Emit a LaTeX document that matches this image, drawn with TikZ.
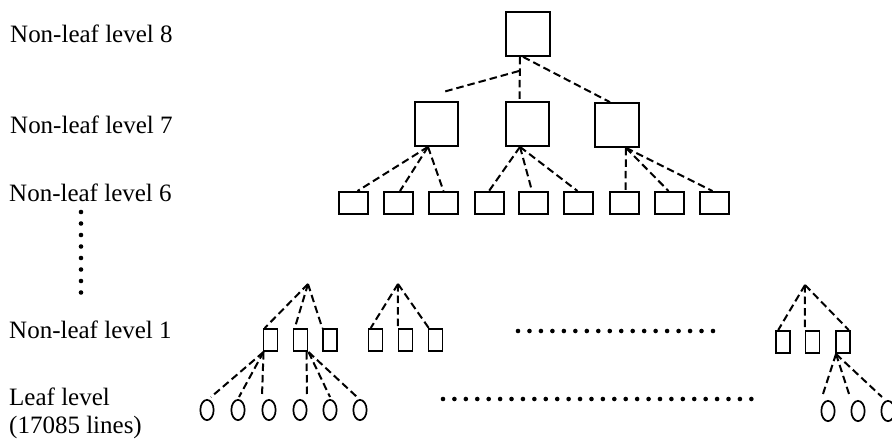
\documentclass[tikz,border=0pt]{standalone}
\usepackage{fontspec}
\setmainfont{Liberation Serif}
\usetikzlibrary{shapes.geometric}

\tikzset{
  bigbox/.style={draw, line width=2.2pt, inner sep=0pt, minimum width=43.5pt, minimum height=43.5pt},
  midbox/.style={draw, line width=2pt, inner sep=0pt, minimum width=29pt, minimum height=22pt},
  smallbox/.style={draw, line width=1.7pt, inner sep=0pt, minimum width=13.8pt, minimum height=22.3pt},
  leaf/.style={draw, ellipse, line width=1.7pt, inner sep=0pt, minimum width=13.3pt, minimum height=20.3pt},
  link/.style={line width=2pt, dash pattern=on 7.5pt off 4pt},
  lbl/.style={anchor=base west, inner sep=0pt, font=\fontsize{25}{29}\selectfont},
  dotmark/.style={fill=black}
}

\begin{document}
\begin{tikzpicture}[x=1pt, y=-1pt]
  \useasboundingbox (0,0) rectangle (892,442);
  \clip (0,0) rectangle (892,442);

  % level labels
  \node[lbl] (lab8) at (10,42) {Non-leaf level 8};
  \node[lbl] (lab7) at (10,133) {Non-leaf level 7};
  \node[lbl] (lab6) at (9,201) {Non-leaf level 6};
  \node[lbl] (lab1) at (9,338) {Non-leaf level 1};
  \node[lbl] (labL) at (9,405) {Leaf level};
  \node[lbl] (labN) at (9,433) {(17085 lines)};

  % vertical ellipsis between level 6 and level 1
  \foreach \k in {0,...,7}
    \fill[dotmark] (81,{212+11.5*\k}) circle (2.3pt);

  % root and level 7
  \node[bigbox] (r) at (528,34) {};
  \node[bigbox] (a) at (436.5,124) {};
  \node[bigbox] (b) at (527.5,124) {};
  \node[bigbox] (c) at (617,125) {};

  \coordinate (j1) at (519,71);
  \coordinate (j2) at (443,92);
  \draw[link] ([xshift=-8pt]r.south) -- ([xshift=-8pt]b.north);
  \draw[link] ([xshift=-5pt]r.south) -- ([xshift=-7pt]c.north);
  \draw[link] (j1) -- (j2);

  % level 6
  \foreach \i/\x in {1/353.5,2/398.5,3/443.5,4/489,5/533.5,6/578.5,7/624.5,8/669.5,9/714.5}
    \node[midbox] (s\i) at (\x,203) {};

  \draw[link] ([xshift=-8.5pt]a.south) -- ([xshift=4pt]s1.north);
  \draw[link] ([xshift=-8.5pt]a.south) -- ([xshift=1.5pt]s2.north);
  \draw[link] ([xshift=-8.5pt]a.south) -- (s3.north);
  \draw[link] ([xshift=-7.5pt]b.south) -- (s4.north);
  \draw[link] ([xshift=-7.5pt]b.south) -- ([xshift=-1.5pt]s5.north);
  \draw[link] ([xshift=-7.5pt]b.south) -- ([xshift=-1pt]s6.north);
  \draw[link] ([xshift=9pt]c.south) -- ([xshift=1pt]s7.north);
  \draw[link] ([xshift=9pt]c.south) -- ([xshift=-1pt]s8.north);
  \draw[link] ([xshift=9pt]c.south) -- ([xshift=-2pt]s9.north);

  % level 1
  \foreach \i/\x in {1/270.5,2/300.5,3/330,4/375.5,5/405.5,6/435.5}
    \node[smallbox] (p\i) at (\x,340) {};
  \foreach \i/\x in {7/783,8/812.5,9/843}
    \node[smallbox] (p\i) at (\x,342) {};

  \coordinate (t1) at (308,284);
  \coordinate (t2) at (398,284);
  \coordinate (t3) at (805,285);

  \draw[link] (t1) -- ([xshift=2pt]p1.north west);
  \draw[link] (t1) -- ([xshift=2pt]p2.north west);
  \draw[link] (t1) -- (p3.north west);
  \draw[link] (t2) -- ([xshift=3pt]p4.north west);
  \draw[link] (t2) -- (p5.north west);
  \draw[link] (t2) -- ([xshift=1pt]p6.north west);
  \draw[link] (t3) -- ([xshift=3pt]p7.north west);
  \draw[link] (t3) -- (p8.north west);
  \draw[link] (t3) -- ([xshift=-2pt]p9.north east);

  % horizontal ellipsis on level 1
  \foreach \k in {0,...,17}
    \fill[dotmark] ({518+11.47*\k},331) circle (2.3pt);

  % leaves
  \foreach \i/\x in {1/207,2/238,3/269,4/300,5/330,6/360}
    \node[leaf] (l\i) at (\x,410) {};
  \foreach \i/\x in {1/828,2/858,3/888}
    \node[leaf] (m\i) at (\x,411) {};

  \draw[link] ([xshift=-7pt]p1.south) -- ([xshift=4pt,yshift=2pt]l1.north);
  \draw[link] ([xshift=-7pt]p1.south) -- ([xshift=1pt,yshift=2pt]l2.north);
  \draw[link] ([xshift=-7pt]p1.south) -- ([xshift=-7pt,yshift=3pt]l3.north);
  \draw[link] ([xshift=6pt]p2.south) -- ([xshift=7pt,yshift=3pt]l4.north);
  \draw[link] ([xshift=8pt]p2.south) -- ([yshift=2pt]l5.north);
  \draw[link] ([xshift=8pt]p2.south) -- ([xshift=-3pt,yshift=2pt]l6.north);
  \draw[link] ([xshift=-7pt]p9.south) -- ([xshift=-6pt,yshift=3pt]m1.north);
  \draw[link] ([xshift=-7pt]p9.south) -- ([xshift=-8pt,yshift=3pt]m2.north);
  \draw[link] ([xshift=-7pt]p9.south) -- ([xshift=-6pt,yshift=3pt]m3.north);

  % horizontal ellipsis on leaf level
  \foreach \k in {0,...,27}
    \fill[dotmark] ({443+11.42*\k},399) circle (2.3pt);
\end{tikzpicture}
\end{document}
